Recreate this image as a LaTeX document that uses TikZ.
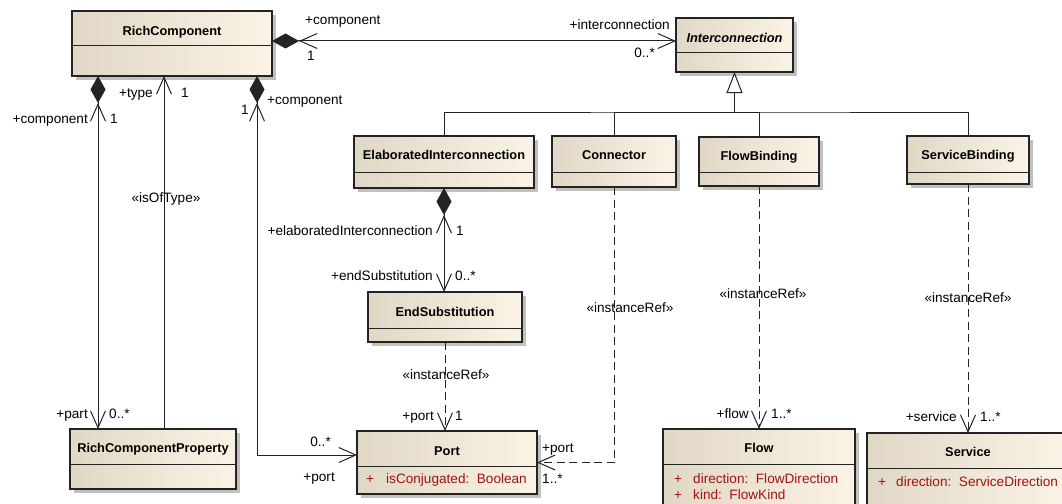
\documentclass[tikz,border=0pt]{standalone}
\usepackage{fontspec}
\setmainfont{Liberation Sans}
\usetikzlibrary{arrows.meta,shadows,calc}

\definecolor{clsL}{RGB}{224,215,197}
\definecolor{clsR}{RGB}{251,243,229}
\definecolor{edgegrey}{RGB}{35,35,35}
\definecolor{attrred}{RGB}{160,20,20}
\definecolor{shadowgrey}{RGB}{192,192,192}

\tikzset{
  cls/.style={draw=edgegrey, line width=1.1pt, left color=clsL, right color=clsR,
    inner sep=0pt, outer sep=0pt,
    drop shadow={shadow xshift=4pt, shadow yshift=-4pt, fill=shadowgrey, opacity=1}},
  divider/.style={draw=edgegrey, line width=1pt},
  ttl/.style={font=\fontsize{12.8}{14}\selectfont\bfseries, inner sep=0pt},
  lbl/.style={font=\fontsize{13.6}{15}\selectfont, inner sep=0pt},
  attrtxt/.style={font=\fontsize{13.6}{15}\selectfont, text=attrred, inner sep=0pt},
  conn/.style={draw=edgegrey, line width=1pt},
  dep/.style={conn, dash pattern=on 8pt off 4.5pt},
  comp/.style={arrows={{Diamond[length=27pt,width=15pt]Straight Barb[length=17pt,width=15pt]}-{Straight Barb[length=17pt,width=15pt]}}},
  navstart/.style={arrows={{Straight Barb[length=17pt,width=15pt]}-}},
  navend/.style={arrows={-{Straight Barb[length=17pt,width=15pt]}}},
  gen/.style={arrows={-{Triangle[open,length=21pt,width=16pt,fill=white]}}},
}

% class box: name, x1, y1, x2, y2, y of the compartment divider
\newcommand{\classbox}[6]{%
  \node[cls, minimum width={#4-#2}, minimum height={#5-#3}, anchor=north west] (#1) at (#2,#3) {};
  \draw[divider] (#2,#6) -- (#4,#6);
}

\begin{document}
\begin{tikzpicture}[x=1pt,y=-1pt]
\clip (0,0) rectangle (1062,503);
\fill[white] (0,0) rectangle (1062,503);

% ---- classes ----
\classbox{rc}{72}{11}{272}{76}{46}
\node[ttl, anchor=base] (rc-t) at (172,35.5) {RichComponent};

\classbox{ic}{676}{18}{793}{72}{53}
\node[ttl, anchor=base] (ic-t) at (734.5,42) {\itshape Interconnection};

\classbox{ei}{354}{136}{534}{188}{172}
\node[ttl, anchor=base] (ei-t) at (444,159.5) {ElaboratedInterconnection};

\classbox{con}{552}{136}{676}{187}{172}
\node[ttl, anchor=base] (con-t) at (614,159.5) {Connector};

\classbox{fb}{699}{137}{819}{186}{172}
\node[ttl, anchor=base] (fb-t) at (759,160) {FlowBinding};

\classbox{sb}{907}{136}{1029}{184}{172}
\node[ttl, anchor=base] (sb-t) at (968,159.5) {ServiceBinding};

\classbox{es}{368}{292}{522}{342}{328}
\node[ttl, anchor=base] (es-t) at (445,316) {EndSubstitution};

\classbox{rcp}{70}{429}{236}{489}{464}
\node[ttl, anchor=base] (rcp-t) at (153,452) {RichComponentProperty};

\classbox{port}{357}{431}{537}{494}{466}
\node[ttl, anchor=base] (port-t) at (447,455) {Port};
\node[attrtxt, anchor=base west] (port-a1) at (366,483) {+};
\node[attrtxt, anchor=base west] (port-a2) at (386,483) {isConjugated:\ \ Boolean};

\classbox{flow}{663}{429}{855}{530}{464}
\node[ttl, anchor=base] (flow-t) at (759,452) {Flow};
\node[attrtxt, anchor=base west] (flow-a1) at (674,483) {+};
\node[attrtxt, anchor=base west] (flow-a2) at (693,483) {direction:\ \ FlowDirection};
\node[attrtxt, anchor=base west] (flow-a3) at (674,499) {+};
\node[attrtxt, anchor=base west] (flow-a4) at (693,499) {kind:\ \ FlowKind};

\classbox{svc}{867}{433}{1070}{530}{468}
\node[ttl, anchor=base] (svc-t) at (968,456) {Service};
\node[attrtxt, anchor=base west] (svc-a1) at (878,486) {+};
\node[attrtxt, anchor=base west] (svc-a2) at (896,486) {direction:\ \ ServiceDirection};

% ---- generalisation tree ----
\coordinate (gj) at ($(ic.south)+(0,40)$);
\draw[conn, gen] (gj) -- (ic.south);
\draw[conn] (ei.north) |- (gj) -| (sb.north);
\draw[conn] (con.north) |- (gj);
\draw[conn] (fb.north) |- (gj);

% ---- associations ----
\draw[conn, comp] ([yshift=2.5pt]rc.east) -- ([yshift=2.5pt]rc.east -| ic.west);
\draw[conn, comp] ([xshift=26pt]rc.south west) -- ([xshift=28pt]rcp.north west);
\draw[conn, navstart] ([xshift=92pt]rc.south west) -- ([xshift=94pt]rcp.north west);
\draw[conn, comp] ([xshift=185pt]rc.south west) |- ([yshift=7.5pt]port.west);
\draw[conn, comp] (ei.south) -- (ei.south |- es.north);

% ---- instance references ----
\draw[dep, navend] (es.south) -- (es.south |- port.north);
\draw[dep, navend] (con.south) |- (port.east);
\draw[dep, navend] (fb.south) -- (fb.south |- flow.north);
\draw[dep, navend] (sb.south) -- (sb.south |- svc.north);

% ---- role names, multiplicities, stereotypes ----
\node[lbl, anchor=base west] (l1) at (305,25) {+component};
\node[lbl, anchor=base west] (l2) at (307,60) {1};
\node[lbl, anchor=base east] (l3) at (670,30) {+interconnection};
\node[lbl, anchor=base east] (l4) at (655,58) {0..*};

\node[lbl, anchor=base east] (l5) at (88,123) {+component};
\node[lbl, anchor=base west] (l6) at (110,123) {1};
\node[lbl, anchor=base east] (l7) at (88,418) {+part};
\node[lbl, anchor=base west] (l8) at (109,418) {0..*};

\node[lbl, anchor=base east] (l9) at (153,97) {+type};
\node[lbl, anchor=base west] (l10) at (181,97) {1};
\node[lbl, anchor=base] (l11) at (166,202) {«isOfType»};

\node[lbl, anchor=base west] (l12) at (267,104) {+component};
\node[lbl, anchor=base east] (l13) at (249,114) {1};
\node[lbl, anchor=base east] (l14) at (331,446) {0..*};
\node[lbl, anchor=base east] (l15) at (335,481) {+port};

\node[lbl, anchor=base east] (l16) at (433,235) {+elaboratedInterconnection};
\node[lbl, anchor=base west] (l17) at (456,235) {1};
\node[lbl, anchor=base east] (l18) at (433,280) {+endSubstitution};
\node[lbl, anchor=base west] (l19) at (455,280) {0..*};

\node[lbl, anchor=base] (l20) at (446,379) {«instanceRef»};
\node[lbl, anchor=base east] (l21) at (434,420) {+port};
\node[lbl, anchor=base west] (l22) at (455,420) {1};

\node[lbl, anchor=base] (l23) at (630,312) {«instanceRef»};
\node[lbl, anchor=base west] (l24) at (542,452) {+port};
\node[lbl, anchor=base west] (l25) at (542,483) {1..*};

\node[lbl, anchor=base] (l26) at (763,298) {«instanceRef»};
\node[lbl, anchor=base east] (l27) at (749,418) {+flow};
\node[lbl, anchor=base west] (l28) at (771,418) {1..*};

\node[lbl, anchor=base] (l29) at (968,302) {«instanceRef»};
\node[lbl, anchor=base east] (l30) at (957,421) {+service};
\node[lbl, anchor=base west] (l31) at (980,421) {1..*};
\end{tikzpicture}
\end{document}
